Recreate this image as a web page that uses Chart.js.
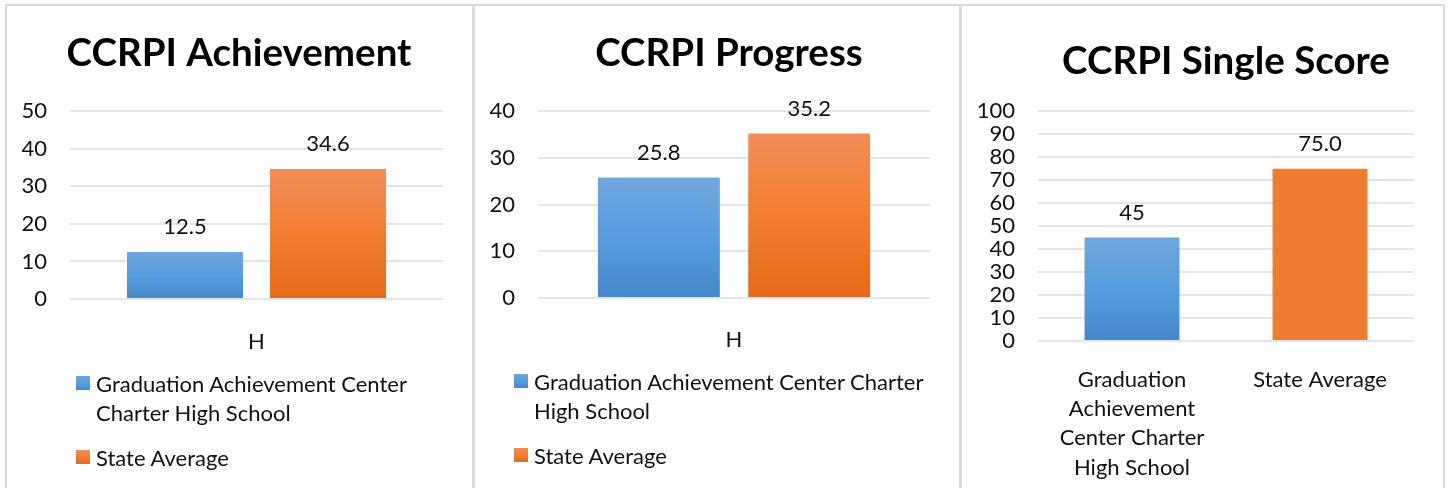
<!DOCTYPE html>
<html>
<head>
<meta charset="utf-8">
<title>CCRPI</title>
<script src="https://cdn.jsdelivr.net/npm/chart.js@4.4.1/dist/chart.umd.min.js"></script>
<style>
    html, body { margin: 0; padding: 0; background: #fff; }
    body { width: 1449px; height: 488px; position: relative; overflow: hidden; font-family: 'Lato', sans-serif; color: #111; }
    .panel { position: absolute; top: 4px; height: 490px; box-sizing: border-box; border: 2px solid #d9d9d9; border-bottom: none; }
    canvas { position: absolute; }
    .legend { position: absolute; font-size: 22px; line-height: 29px; }
    .legend-item { position: relative; padding-left: 20px; margin-bottom: 16px; }
    .legend-item .swatch { position: absolute; left: 0; top: 7px; width: 14px; height: 14px; }
</style>
</head>
<body>
<div class="panel" style="left:5px;width:470px"></div>
<div class="panel" style="left:472px;width:489px"></div>
<div class="panel" style="left:960px;width:485px"></div>

<!-- canvases 2 and 3 run wider than their panel so the titles sit off-centre like the original -->
<canvas id="achievementChart" width="466" height="483" style="left:6px;top:5px"></canvas>
<canvas id="progressChart" width="512" height="483" style="left:473px;top:5px"></canvas>
<canvas id="singleScoreChart" width="530" height="483" style="left:961px;top:5px"></canvas>

<div class="legend" id="achievementLegend" style="left:76px;top:369px;width:360px"></div>
<div class="legend" id="progressLegend" style="left:514px;top:367px;width:425px"></div>

<script>
// --- DATA ---
const seriesNames = ['Graduation Achievement Center Charter High School', 'State Average'];

const achievementCategories = ['H'];
const achievementSchool = [12.5];
const achievementState = [34.6];
const achievementTicks = [0, 10, 20, 30, 40, 50];

const progressCategories = ['H'];
const progressSchool = [25.8];
const progressState = [35.2];
const progressTicks = [0, 10, 20, 30, 40];

const singleScoreCategories = [['Graduation', 'Achievement', 'Center Charter', 'High School'], 'State Average'];
const singleScoreValues = [45, 75.0];
const singleScoreDecimals = [0, 1];
const singleScoreTicks = [0, 10, 20, 30, 40, 50, 60, 70, 80, 90, 100];

// --- STYLES ---
const titleFont = { family: 'Lato', size: 38.5, weight: 'bold' };
const textFont = { family: 'Lato', size: 22 };
const textColor = '#111';
const blueStops = ['#70a7dc', '#579ddf', '#4588c8'];
const orangeStops = ['#f08d5a', '#f37e30', '#e5691a'];
const orangeSolid = '#ed7d31';

// gradient from the top of each bar down to its base
function barGradient(stops) {
    return function(context) {
        const chart = context.chart;
        if (!chart.chartArea || context.raw === undefined) return stops[1];
        const y = chart.scales.y;
        const g = chart.ctx.createLinearGradient(0, y.getPixelForValue(context.raw), 0, y.getPixelForValue(0));
        stops.forEach((c, i) => g.addColorStop(i / (stops.length - 1), c));
        return g;
    };
}

// value written above every bar
const valueLabels = {
    id: 'valueLabels',
    afterDatasetsDraw(chart) {
        const ctx = chart.ctx;
        ctx.save();
        ctx.font = textFont.size + 'px ' + textFont.family;
        ctx.fillStyle = textColor;
        ctx.textAlign = 'center';
        ctx.textBaseline = 'alphabetic';
        chart.data.datasets.forEach((ds, di) => {
            chart.getDatasetMeta(di).data.forEach((bar, i) => {
                const dec = ds.decimals ? ds.decimals[i] : 1;
                ctx.fillText(ds.data[i].toFixed(dec), bar.x, bar.y - 18);
            });
        });
        ctx.restore();
    }
};

function makeChart(id, cfg) {
    return new Chart(document.getElementById(id), {
        type: 'bar',
        data: { labels: cfg.labels, datasets: cfg.datasets },
        options: {
            responsive: false,
            animation: false,
            plugins: {
                legend: { display: false },
                tooltip: { enabled: false },
                title: {
                    display: true, text: cfg.title, color: '#000', font: titleFont,
                    padding: { top: cfg.titleTop, bottom: cfg.titleBottom }
                }
            },
            scales: {
                x: {
                    grid: { display: false },
                    border: { display: false },
                    ticks: { color: textColor, font: { ...textFont, lineHeight: 1.33 }, padding: cfg.xPad, maxRotation: 0, autoSkip: false },
                    afterFit: s => { s.height = cfg.xHeight; }
                },
                y: {
                    min: cfg.ticks[0],
                    max: cfg.ticks[cfg.ticks.length - 1],
                    grid: { color: '#e1e4e8', lineWidth: 2, drawTicks: false },
                    border: { display: false },
                    ticks: { color: textColor, font: textFont, padding: cfg.yPad, autoSkip: false },
                    afterBuildTicks: s => { s.ticks = cfg.ticks.map(v => ({ value: v })); },
                    afterFit: s => { s.width = cfg.yWidth; }
                },
                // empty right-hand axis, only keeps the plot clear of the right edge
                gutter: {
                    type: 'linear', axis: 'y', position: 'right',
                    grid: { display: false }, border: { display: false }, ticks: { display: false },
                    afterFit: s => { s.width = cfg.rightGap; }
                }
            }
        },
        plugins: [valueLabels]
    });
}

function buildLegend(id, chart, swatches) {
    const box = document.getElementById(id);
    chart.data.datasets.forEach((ds, i) => {
        const item = document.createElement('div');
        item.className = 'legend-item';
        const sw = document.createElement('span');
        sw.className = 'swatch';
        sw.style.background = swatches[i];
        item.appendChild(sw);
        item.appendChild(document.createTextNode(ds.label));
        box.appendChild(item);
    });
}

document.addEventListener('DOMContentLoaded', function() {
    const groupBar = { categoryPercentage: 0.767, barPercentage: 0.811 };
    const swatches = [
        'linear-gradient(' + blueStops.join(',') + ')',
        'linear-gradient(' + orangeStops.join(',') + ')'
    ];

    // --- 1. CCRPI Achievement ---
    const achievement = makeChart('achievementChart', {
        title: 'CCRPI Achievement',
        labels: achievementCategories,
        datasets: [
            { label: seriesNames[0], data: achievementSchool, backgroundColor: barGradient(blueStops), ...groupBar },
            { label: seriesNames[1], data: achievementState, backgroundColor: barGradient(orangeStops), ...groupBar }
        ],
        ticks: achievementTicks,
        yWidth: 64, yPad: 23, rightGap: 29,
        titleTop: 25, titleBottom: 35, xPad: 20, xHeight: 189
    });
    buildLegend('achievementLegend', achievement, swatches);

    // --- 2. CCRPI Progress ---
    const progress = makeChart('progressChart', {
        title: 'CCRPI Progress',
        labels: progressCategories,
        datasets: [
            { label: seriesNames[0], data: progressSchool, backgroundColor: barGradient(blueStops), ...groupBar },
            { label: seriesNames[1], data: progressState, backgroundColor: barGradient(orangeStops), ...groupBar }
        ],
        ticks: progressTicks,
        yWidth: 65, yPad: 23, rightGap: 55,
        titleTop: 25, titleBottom: 35, xPad: 19, xHeight: 190
    });
    buildLegend('progressLegend', progress, swatches);

    // --- 3. CCRPI Single Score (one bar per category, no legend) ---
    const blueFill = barGradient(blueStops);
    makeChart('singleScoreChart', {
        title: 'CCRPI Single Score',
        labels: singleScoreCategories,
        datasets: [{
            label: 'Score',
            data: singleScoreValues,
            decimals: singleScoreDecimals,
            backgroundColor: ctx => ctx.dataIndex === 0 ? blueFill(ctx) : orangeSolid,
            categoryPercentage: 1,
            barPercentage: 0.505
        }],
        ticks: singleScoreTicks,
        yWidth: 77, yPad: 23, rightGap: 77,
        titleTop: 33, titleBottom: 27, xPad: 16, xHeight: 147
    });
});
</script>
</body>
</html>
